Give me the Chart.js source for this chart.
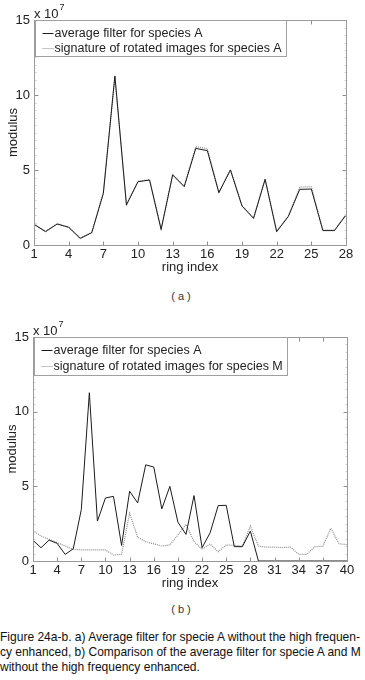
<!DOCTYPE html>
<html>
<head>
<meta charset="utf-8">
<script src="https://cdn.jsdelivr.net/npm/chart.js@4.4.1/dist/chart.umd.min.js"></script>
<style>
  body { margin: 0; background: #fff; width: 365px; height: 680px; position: relative; overflow: hidden; }
  canvas { position: absolute; left: 0; }
  #chartA { top: 0; }
  #chartB { top: 317px; }
  .sub { position: absolute; left: 0; width: 362px; text-align: center; font: 11px "Liberation Sans", Arial, sans-serif; color: #333; }
  #caption { position: absolute; left: 0; top: 629px; font: 13px "Liberation Sans", Arial, sans-serif; line-height: 15px; color: #111; white-space: nowrap; }
  #caption div { transform-origin: 0 50%; }
</style>
</head>
<body>
<canvas id="chartA" width="365" height="275"></canvas>
<div class="sub" style="top:290px">( a )</div>
<canvas id="chartB" width="365" height="274"></canvas>
<div class="sub" style="top:603px">( b )</div>
<div id="caption">
  <div>Figure 24a-b. a) Average filter for specie A without the high frequen-</div>
  <div>cy enhanced, b) Comparison of the average filter for specie A and M</div>
  <div>without the high frequency enhanced.</div>
</div>
<script>
// ring indices
const ringsA = [1, 2, 3, 4, 5, 6, 7, 8, 9, 10, 11, 12, 13, 14, 15, 16, 17, 18, 19, 20, 21, 22, 23, 24, 25, 26, 27, 28];
const ringsB = [1, 2, 3, 4, 5, 6, 7, 8, 9, 10, 11, 12, 13, 14, 15, 16, 17, 18, 19, 20,
                21, 22, 23, 24, 25, 26, 27, 28, 29, 30, 31, 32, 33, 34, 35, 36, 37, 38, 39, 40];

// modulus, x 10^7
const avgFilterA = [1.38, 0.89, 1.40, 1.18, 0.44, 0.82, 3.44, 11.27, 2.67, 4.22, 4.33, 1.04, 4.67, 3.89,
                    6.44, 6.29, 3.49, 5.00, 2.60, 1.78, 4.38, 0.89, 1.89, 3.71, 3.73, 0.96, 0.96, 2.00];
const rotatedA   = [1.40, 0.91, 1.42, 1.20, 0.46, 0.84, 3.50, 11.20, 2.70, 4.25, 4.36, 1.07, 4.70, 3.92,
                    6.56, 6.42, 3.52, 5.03, 2.63, 1.80, 4.40, 0.92, 1.92, 3.86, 3.88, 0.99, 0.99, 2.03];

const avgFilterB = [1.38, 0.89, 1.40, 1.18, 0.44, 0.82, 3.44, 11.27, 2.67, 4.22, 4.33, 1.04, 4.67, 3.89,
                    6.44, 6.29, 3.49, 5.00, 2.60, 1.78, 4.38, 0.89, 1.89, 3.71, 3.73, 0.96, 0.96, 2.00,
                    0, 0, 0, 0, 0, 0, 0, 0, 0, 0, 0, 0];
const rotatedM   = [2.03, 1.67, 1.45, 1.23, 1.00, 0.78, 0.75, 0.75, 0.75, 0.74, 0.40, 0.45, 3.19, 1.59,
                    1.30, 1.15, 1.00, 1.08, 1.74, 2.45, 1.29, 0.78, 1.14, 0.62, 1.07, 1.05, 1.00, 2.34,
                    1.00, 0.93, 0.93, 0.90, 0.93, 0.45, 0.45, 0.95, 1.00, 2.19, 1.15, 1.10];

const labelsA = ["average filter for species A", "signature of rotated images for species A"];
const labelsB = ["average filter for species A", "signature of rotated images for species M"];

const FONT = '"Liberation Sans", Arial, sans-serif';

// box round the plot with inward ticks, legend box and the x 10^7 factor
const matlabAxes = {
  id: "matlabAxes",
  afterDatasetsDraw(chart) {
    const { ctx, chartArea: a, scales } = chart;
    const x = scales.x, y = scales.y;
    const L = Math.round(a.left) + 0.5, R = Math.round(a.right) + 0.5;
    const T = Math.round(a.top) + 0.5, B = Math.round(a.bottom) + 0.5;
    ctx.save();
    ctx.lineWidth = 1;
    // minor y ticks
    ctx.strokeStyle = "#d0d0d0";
    ctx.beginPath();
    for (let v = y.min; v <= y.max; v += 0.5) {
      const py = Math.round(y.getPixelForValue(v)) + 0.5;
      ctx.moveTo(L, py); ctx.lineTo(L + 2, py);
      ctx.moveTo(R, py); ctx.lineTo(R - 2, py);
    }
    ctx.stroke();
    ctx.strokeStyle = "#8e8e8e";
    ctx.beginPath();
    x.ticks.forEach(t => {
      const px = Math.round(x.getPixelForValue(t.value)) + 0.5;
      ctx.moveTo(px, B); ctx.lineTo(px, B - 4);
      ctx.moveTo(px, T); ctx.lineTo(px, T + 4);
    });
    y.ticks.forEach(t => {
      const py = Math.round(y.getPixelForValue(t.value)) + 0.5;
      ctx.moveTo(L, py); ctx.lineTo(L + 4, py);
      ctx.moveTo(R, py); ctx.lineTo(R - 4, py);
    });
    ctx.stroke();
    ctx.strokeStyle = "#9a9a9a";
    ctx.strokeRect(L, T, R - L, B - T);

    // exponent
    ctx.fillStyle = "#222";
    ctx.textBaseline = "alphabetic";
    ctx.textAlign = "left";
    ctx.font = "13px " + FONT;
    ctx.fillText("x 10", a.left, a.top - 2);
    const w = ctx.measureText("x 10").width;
    ctx.font = "9px " + FONT;
    ctx.fillText("7", a.left + w + 1, a.top - 10);

    // legend
    const opts = chart.options.plugins.matlabAxes;
    ctx.font = "12.5px " + FONT;
    const ds = chart.data.datasets;
    const tw = Math.max(...ds.map(d => ctx.measureText(d.label).width));
    const bx = L + 1, by = T;
    const bw = Math.round(tw + 24), bh = opts.rowGap * 2 + 6;
    ctx.fillStyle = "#fff";
    ctx.fillRect(bx, by, bw, bh);
    ctx.strokeStyle = "#a0a0a0";
    ctx.strokeRect(bx, by, bw, bh);
    ds.forEach((d, i) => {
      const ly = Math.round(by + 12 + i * opts.rowGap) + 0.5;
      ctx.strokeStyle = d.borderColor;
      ctx.lineWidth = 1;
      ctx.setLineDash(d.borderDash || []);
      ctx.beginPath();
      ctx.moveTo(bx + 7, ly); ctx.lineTo(bx + 18, ly);
      ctx.stroke();
      ctx.setLineDash([]);
      ctx.fillStyle = "#222";
      ctx.textBaseline = "middle";
      ctx.fillText(d.label, bx + 19, ly);
    });
    ctx.restore();
  }
};

function makeChart(id, rings, black, gray, labels, pad, rowGap) {
  return new Chart(document.getElementById(id), {
    type: "line",
    data: {
      datasets: [
        {
          label: labels[0],
          data: rings.map((r, i) => ({ x: r, y: black[i] })),
          borderColor: "#1b1b1b",
          borderWidth: 1,
          pointRadius: 0,
          tension: 0
        },
        {
          label: labels[1],
          data: rings.map((r, i) => ({ x: r, y: gray[i] })),
          borderColor: "#8c8c8c",
          borderWidth: 1.2,
          borderDash: [1, 1],
          pointRadius: 0,
          tension: 0
        }
      ]
    },
    options: {
      responsive: false,
      animation: false,
      layout: { padding: pad },
      plugins: {
        legend: { display: false },
        tooltip: { enabled: false },
        matlabAxes: { rowGap: rowGap }
      },
      scales: {
        x: {
          type: "linear",
          min: rings[0],
          max: rings[rings.length - 1],
          grid: { display: false, drawTicks: false },
          border: { display: false },
          ticks: { stepSize: 3, padding: 2, color: "#222", font: { family: FONT, size: 13 } },
          title: { display: true, text: "ring index", color: "#222", font: { family: FONT, size: 13 }, padding: 0 },
          afterFit: s => { s.height = 30; }
        },
        y: {
          min: 0,
          max: 15,
          grid: { display: false, drawTicks: false },
          border: { display: false },
          ticks: { stepSize: 5, padding: 4, color: "#222", font: { family: FONT, size: 13 } },
          title: { display: true, text: "modulus", color: "#222", font: { family: FONT, size: 13 }, padding: { top: 3, bottom: 0 } },
          afterFit: s => { s.width = 31; }
        }
      }
    },
    plugins: [matlabAxes]
  });
}

makeChart("chartA", ringsA, avgFilterA, rotatedA, labelsA, { top: 20, right: 19, bottom: 0, left: 3 }, 15);
makeChart("chartB", ringsB, avgFilterB, rotatedM, labelsB, { top: 20, right: 18, bottom: 0, left: 2 }, 16);

// the caption is set in a condensed face: squeeze the lines to the printed width
const capLines = document.querySelectorAll("#caption div");
const meas = document.createElement("canvas").getContext("2d");
meas.font = "13px " + FONT;
const squeeze = 362 / meas.measureText(capLines[0].textContent).width;
capLines.forEach((el, i) => {
  const k = i === 1 ? 362 / meas.measureText(el.textContent).width : squeeze;
  el.style.transform = "scaleX(" + k.toFixed(4) + ")";
});
</script>
</body>
</html>
